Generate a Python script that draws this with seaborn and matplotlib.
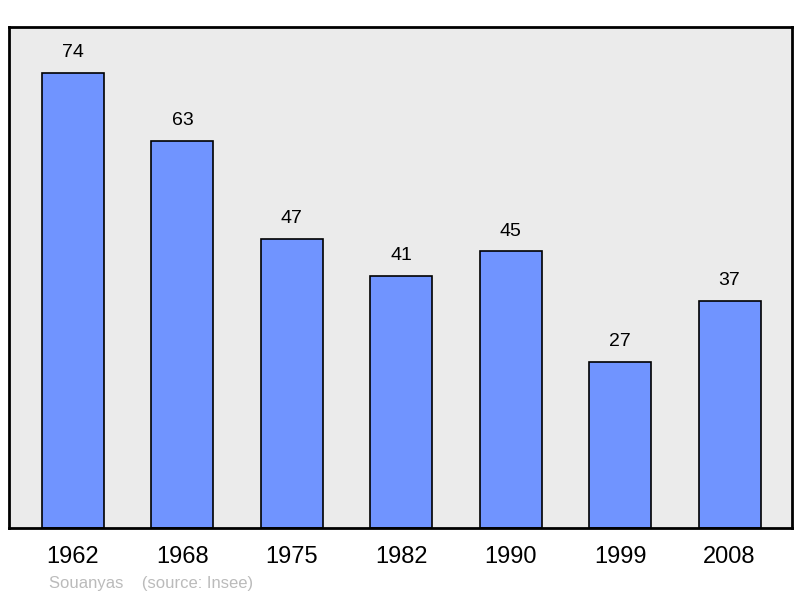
import matplotlib.pyplot as plt
import pandas as pd
import seaborn as sns

# population par année
annees = ['1962', '1968', '1975', '1982', '1990', '1999', '2008']
population = [74, 63, 47, 41, 45, 27, 37]

df = pd.DataFrame({'annee': annees, 'pop': population})

sns.set_style('white')
plt.rcParams['font.family'] = ['Liberation Sans', 'DejaVu Sans']
plt.rcParams['text.color'] = 'black'
plt.rcParams['xtick.color'] = 'black'

fig = plt.figure(figsize=(8, 5.98), dpi=100)
ax = fig.add_axes([0.01125, 0.1171, 0.97875, 0.8377])
ax.set_facecolor('#ebebeb')

sns.barplot(data=df, x='annee', y='pop', color='#7094ff', saturation=1,
            width=0.567, edgecolor='black', linewidth=1.2, ax=ax)

# valeurs au-dessus des barres
for i, v in enumerate(population):
    ax.annotate(str(v), (i, v), xytext=(0, 8.5), textcoords='offset points',
                ha='center', va='bottom', fontsize=14, color='black')

ax.set_xlim(-0.585, 6.571)
ax.set_ylim(0, 81.5)
ax.set_yticks([])
ax.set_xlabel('')
ax.set_ylabel('')
ax.tick_params(axis='x', length=0, pad=13, labelsize=17, labelcolor='black')
for s in ax.spines.values():
    s.set_visible(True)
    s.set_color('black')
    s.set_linewidth(2)

fig.text(0.061, 0.016, 'Souanyas    (source: Insee)', color='#bbbbbb', fontsize=12)

fig.savefig('out.png', dpi=100)
